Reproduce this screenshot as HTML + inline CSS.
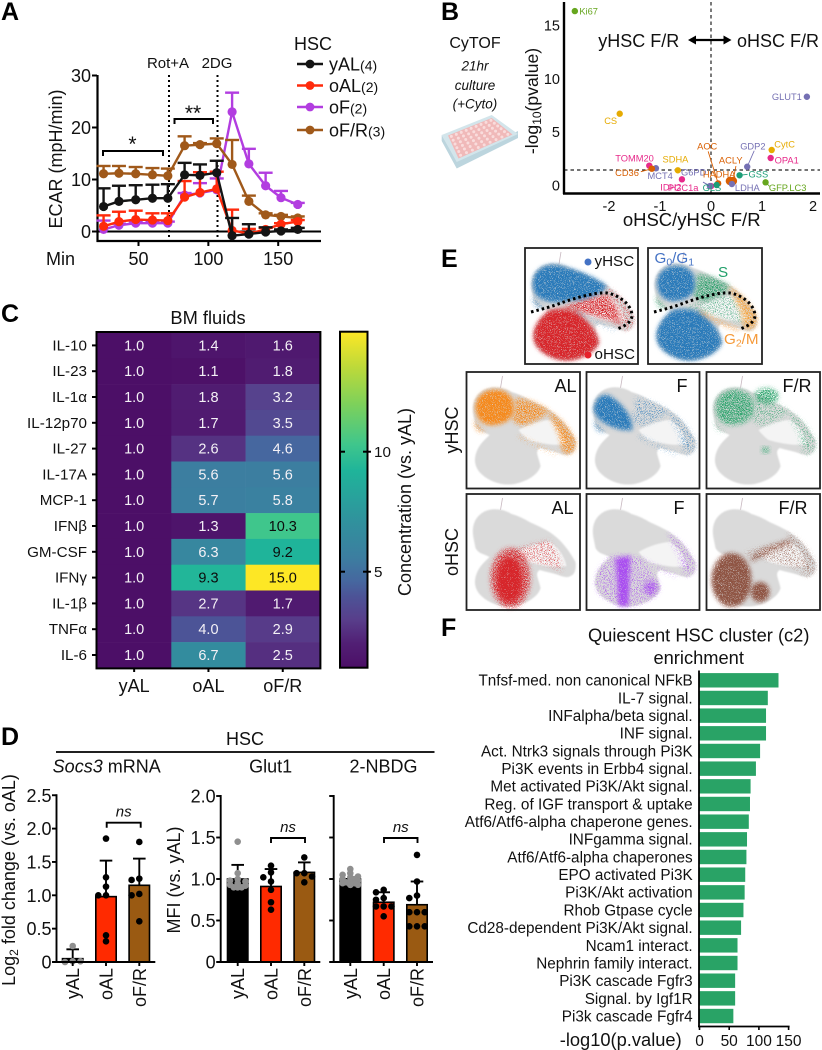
<!DOCTYPE html>
<html lang="en">
<head>
<meta charset="utf-8">
<title>HSC figure</title>
<style>
html,body{margin:0;padding:0;background:#fff;}
svg{display:block;font-family:"Liberation Sans",sans-serif;fill:#111;}
</style>
</head>
<body>
<svg id="figure" width="822" height="1050" viewBox="0 0 822 1050">
<defs>
<filter id="soft-edge" x="-10%" y="-10%" width="120%" height="120%" color-interpolation-filters="sRGB">
<feGaussianBlur in="SourceGraphic" stdDeviation="0.7"/>
</filter>
<filter id="speckle-dense" x="-30%" y="-30%" width="160%" height="160%" color-interpolation-filters="sRGB">
<feGaussianBlur in="SourceGraphic" stdDeviation="2" result="b"/>
<feTurbulence type="fractalNoise" baseFrequency="1.2" numOctaves="2" seed="4" result="n"/>
<feColorMatrix in="n" type="matrix" values="0 0 0 0 0 0 0 0 0 0 0 0 0 0 0 9 0 0 0 -2.6" result="m"/>
<feComposite in="b" in2="m" operator="in"/>
</filter>
<filter id="speckle-medium" x="-30%" y="-30%" width="160%" height="160%" color-interpolation-filters="sRGB">
<feGaussianBlur in="SourceGraphic" stdDeviation="2.5" result="b"/>
<feTurbulence type="fractalNoise" baseFrequency="1.25" numOctaves="2" seed="7" result="n"/>
<feColorMatrix in="n" type="matrix" values="0 0 0 0 0 0 0 0 0 0 0 0 0 0 0 12 0 0 0 -5.2" result="m"/>
<feComposite in="b" in2="m" operator="in"/>
</filter>
<filter id="speckle-sparse" x="-30%" y="-30%" width="160%" height="160%" color-interpolation-filters="sRGB">
<feGaussianBlur in="SourceGraphic" stdDeviation="2.5" result="b"/>
<feTurbulence type="fractalNoise" baseFrequency="1.3" numOctaves="2" seed="9" result="n"/>
<feColorMatrix in="n" type="matrix" values="0 0 0 0 0 0 0 0 0 0 0 0 0 0 0 14 0 0 0 -8 " result="m"/>
<feComposite in="b" in2="m" operator="in"/>
</filter>
</defs>
</svg>
<script>
/* ---------- Panel A data ---------- */
const ecarTimes=[25,36,48,60,71,83,94,106,117,129,141,152,164];
const ecarYAL=[4.8,5.8,6.1,6.4,6.4,10.9,10.8,11.3,-0.8,-0.5,-0.1,0.1,0.4];
const ecarYALUpper=[8.3,8.8,8.9,9.0,9.1,13.2,12.9,13.6,2.6,1.4,0.8,0.4,0.7];
const ecarOAL=[1.0,1.9,2.3,2.2,2.1,6.6,7.5,8.2,0.2,-0.4,0.4,1.4,1.9];
const ecarOALUpper=[3.1,3.8,4.0,3.5,3.5,9.7,11.4,11.5,4.2,0.5,0.7,1.6,2.2];
const ecarOF=[0.4,1.2,1.6,1.6,1.6,7.0,7.4,8.0,23.0,13.0,8.8,6.5,5.2];
const ecarOFUpper=[2.1,1.5,1.9,1.9,1.9,7.4,9.3,10.2,26.7,15.9,11.3,7.8,5.5];
const ecarOFR=[11.1,11.2,11.1,10.9,10.7,16.5,16.7,16.9,12.9,5.8,3.2,2.9,2.6];
const ecarOFRUpper=[12.6,12.6,12.4,12.2,12.1,18.3,17.0,17.9,17.6,6.9,3.5,3.2,2.9];
const ecarXTicks=[50,100,150];
const ecarYTicks=[0,10,20,30];

/* ---------- Panel B data ---------- */
const volcanoNames=["Ki67","CS","GLUT1","CytC","OPA1","GDP2","TOMM20","MCT4","CD36","SDHA","PGC1a","IDH2","G6PD","AOC","HADHA","ACLY","GSS","LDHA","GFP.LC3","GLS"];
const volcanoFoldChange=[-2.67,-1.79,1.88,1.19,1.17,0.71,-1.21,-1.08,-1.16,-0.65,-0.57,0.0,-0.02,0.14,0.37,0.43,0.56,0.41,1.07,0.11];
const volcanoPValue=[16.3,6.68,8.27,3.28,2.53,1.71,1.81,1.57,1.53,1.38,0.53,-0.1,-0.1,0.15,0.37,0.37,0.91,0.09,0.25,0.0];
const volcanoGroups=["lime","gold","violet","gold","pink","violet","pink","violet","orange","gold","pink","pink","violet","orange","orange","orange","teal","violet","lime","teal"];
const volcanoXTicks=[-2,-1,0,1,2];
const volcanoYTicks=[0,5,10,15];

/* ---------- Panel C data ---------- */
const heatRows=["IL-10","IL-23","IL-1α","IL-12p70","IL-27","IL-17A","MCP-1","IFNβ","GM-CSF","IFNγ","IL-1β","TNFα","IL-6"];
const heatCols=["yAL","oAL","oF/R"];
const heatYAL=[1,1,1,1,1,1,1,1,1,1,1,1,1];
const heatOAL=[1.4,1.1,1.8,1.7,2.6,5.6,5.7,1.3,6.3,9.3,2.7,4.0,6.7];
const heatOFR=[1.6,1.8,3.2,3.5,4.6,5.6,5.8,10.3,9.2,15.0,1.7,2.9,2.5];
const colorbarTicks=[5,10];

/* ---------- Panel D data ---------- */
const barGroups=["yAL","oAL","oF/R"];
const socs3Means=[0.05,0.98,1.15];
const socs3Upper=[0.19,1.52,1.55];
const socs3DotsYAL=[0.24,0.01,0.0,0.01];
const socs3DotsOAL=[1.85,1.27,1.13,1.0,1.0,0.4,0.31];
const socs3DotsOFR=[1.8,1.25,1.23,1.02,1.0,0.61];
const glut1Means=[1.0,0.91,1.08];
const glut1Upper=[1.17,1.12,1.2];
const glut1DotsYAL=[1.45,1.07,1.0,0.98,0.97,0.95,0.93,0.92,0.9,0.9,0.9,0.9];
const glut1DotsOAL=[1.16,1.08,1.02,0.97,0.87,0.72,0.63];
const glut1DotsOFR=[1.26,1.07,1.07,1.03,0.96];
const nbdgMeans=[1.0,0.72,0.69];
const nbdgUpper=[1.0,0.84,0.97];
const nbdgDotsYAL=[1.12,1.07,1.05,1.03,1.02,1.0,1.0,0.98,0.97,0.96,0.95,0.95,0.94,0.93,0.93,0.93];
const nbdgDotsOAL=[0.87,0.84,0.77,0.75,0.67,0.67,0.67,0.55];
const nbdgDotsOFR=[1.29,0.97,0.8,0.77,0.6,0.6,0.6,0.43,0.43,0.43];
const socs3Ticks=[0,0.5,1.0,1.5,2.0,2.5];
const mfiTicks=[0,0.5,1.0,1.5,2.0];

/* ---------- Panel F data ---------- */
const pathwayNames=["Tnfsf-med. non canonical NFkB","IL-7 signal.","INFalpha/beta signal.","INF signal.","Act. Ntrk3 signals through Pi3K","Pi3K events in Erbb4 signal.","Met activated Pi3K/Akt signal.","Reg. of IGF transport & uptake","Atf6/Atf6-alpha chaperone genes.","INFgamma signal.","Atf6/Atf6-alpha chaperones","EPO activated Pi3K","Pi3K/Akt activation","Rhob Gtpase cycle","Cd28-dependent Pi3K/Akt signal.","Ncam1 interact.","Nephrin family interact.","Pi3K cascade Fgfr3","Signal. by Igf1R","Pi3k cascade Fgfr4"];
const pathwayScores=[133,115,112,112,102,95,86,85,83,80,79,77,76,74,70,64,64,60,60,57];
const pathwayTicks=[0,50,100,150];

/* ---------- helpers ---------- */
const root=document.getElementById('figure');
const NS=root.namespaceURI;
function add(parent,tag,attrs,content){
  const n=document.createElementNS(NS,tag);
  for(const k in attrs){n.setAttribute(k,attrs[k]);}
  if(content!==undefined&&content!==null){n.textContent=content;}
  parent.appendChild(n);
  return n;
}
function group(parent,name){
  const g=add(parent,'g',{});
  
  
  return g;
}
function text(parent,x,y,str,size,anchor,name,extra){
  const a=Object.assign({x:x,y:y,'font-size':size,'text-anchor':anchor||'start'},extra||{});
  const t=add(parent,'text',a,str);
  
  
  return t;
}
function seg(parent,x1,y1,x2,y2,w,color,name,extra){
  const a=Object.assign({x1:x1,y1:y1,x2:x2,y2:y2,stroke:color||'#000','stroke-width':w},extra||{});
  const l=add(parent,'line',a);
  
  
  return l;
}
function slug(s){return String(s).toLowerCase().replace(/[^a-z0-9α-ω]+/g,'-').replace(/^-|-$/g,'');}

/* panel letters */
const letterGroup=group(root,'panel-letters');
[["A",1,20],["B",441,20],["C",1,322],["D",1,745],["E",441,267],["F",441,636]].forEach(function(p){
  const t=text(letterGroup,p[1],p[2],p[0],25,'start','panel-letter-'+p[0].toLowerCase(),{'font-weight':'bold',fill:'#000'});
});

/* ---------- Panel A ---------- */
function drawA(){
  const g=group(root,'ecar-line-chart');
  const xA=function(v){return 138.5+(v-50)*1.397;};
  const yA=function(v){return 231.5-v*5.2;};
  seg(g,97.5,75,97.5,242,2.2,'#000','y-axis');
  seg(g,96.5,241,321,241,2.2,'#000','x-axis');
  seg(g,97,yA(0),321,yA(0),2,'#000','zero-line');
  ecarYTicks.forEach(function(v){
    seg(g,92,yA(v),97,yA(v),2,'#000','y-tick');
    text(g,91,yA(v)+6.5,v,18,'end','y-tick-label');
  });
  ecarXTicks.forEach(function(v){
    seg(g,xA(v),241,xA(v),246,2,'#000','x-tick');
    text(g,xA(v),265,v,18,'middle','x-tick-label');
  });
  text(g,46,265,'Min',18,'start','x-axis-title');
  text(g,0,0,'ECAR (mpH/min)',18,'middle','y-axis-title',{transform:'translate(62 159) rotate(-90)'});
  seg(g,169,75,169,241,2,'#000','rot-a-marker',{'stroke-dasharray':'2 3'});
  seg(g,217.5,75,217.5,241,2,'#000','2dg-marker',{'stroke-dasharray':'2 3'});
  text(g,168,68,'Rot+A',15,'middle','rot-a-label');
  text(g,217,68,'2DG',15,'middle','2dg-label');
  const series=[
    {n:'of',c:'#b23de0',m:ecarOF,u:ecarOFUpper},
    {n:'of-r',c:'#a0591a',m:ecarOFR,u:ecarOFRUpper},
    {n:'oal',c:'#ff2a0c',m:ecarOAL,u:ecarOALUpper},
    {n:'yal',c:'#141414',m:ecarYAL,u:ecarYALUpper}
  ];
  series.forEach(function(s){
    const sg=group(g,'series-'+s.n);
    s.u.forEach(function(u,i){
      seg(sg,xA(ecarTimes[i]),yA(s.m[i]),xA(ecarTimes[i]),yA(u),2.4,s.c,'error-bar');
      seg(sg,xA(ecarTimes[i])-7,yA(u),xA(ecarTimes[i])+7,yA(u),2.4,s.c,'error-cap');
    });
    const pts=s.m.map(function(v,i){return xA(ecarTimes[i])+','+yA(v);}).join(' ');
    const line=add(sg,'polyline',{points:pts,fill:'none',stroke:s.c,'stroke-width':2.4});
    
    
    s.m.forEach(function(v,i){
      const c=add(sg,'circle',{cx:xA(ecarTimes[i]),cy:yA(v),r:4.6,fill:s.c});
      
      
    });
  });
  /* significance */
  const b1=add(g,'path',{d:'M103 156V151H163V156',fill:'none',stroke:'#000','stroke-width':2});
  
  
  text(g,132.5,151,'*',21,'middle','significance-star');
  const b2=add(g,'path',{d:'M174.5 124V119H213V124',fill:'none',stroke:'#000','stroke-width':2});
  
  
  text(g,193,120,'**',21,'middle','significance-stars');
  /* legend */
  const lg=group(g,'legend');
  text(lg,294,50,'HSC',18,'start','legend-title');
  [['yAL','(4)','#141414',64],['oAL','(2)','#ff2a0c',85.5],['oF','(2)','#b23de0',107],['oF/R','(3)','#a0591a',130]].forEach(function(r){
    const e=group(lg,'legend-entry');
    seg(e,297,r[3],323,r[3],2.4,r[2],'legend-line');
    const c=add(e,'circle',{cx:310,cy:r[3],r:4.4,fill:r[2]});
    
    
    const t=text(e,329,r[3]+6.5,r[0],18,'start','legend-label');
    add(t,'tspan',{'font-size':14},r[1]);
  });
}
drawA();

/* ---------- Panel B ---------- */
function drawB(){
  const g=group(root,'volcano-plot');
  const xB=function(v){return 711+v*51;};
  const yB=function(v){return 185-v*10.67;};
  const palette={lime:'#66a61e',gold:'#e6ab02',violet:'#7570b3',pink:'#e7298a',orange:'#d95f02',teal:'#1b9e77'};
  /* label offsets from each point: [dx, dy] */
  const labelOffset={"Ki67":[4.5,0],"CS":[-15.5,7],"GLUT1":[-35,0],"CytC":[2.6,-6],"OPA1":[4,2],"GDP2":[-7,-20.7],"TOMM20":[-34,-7.7],"MCT4":[-8.4,7.4],"CD36":[-36.7,4],"SDHA":[-15.3,-11.3],"PGC1a":[-14,8.4],"IDH2":[-50.7,1.2],"G6PD":[-29,-14],"AOC":[-21,-37],"HADHA":[-27,-7],"ACLY":[-14,-21],"GSS":[9,-1.3],"LDHA":[3,3.7],"GFP.LC3":[3.3,5.4],"GLS":[-14,2.7]};
  /* leader-line ends relative to each point */
  const leaderEnd={"GDP2":[7,-16],"AOC":[-10,-32],"ACLY":[3,-15],"CD36":[-11,3],"G6PD":[-7,-4],"GSS":[8,-1],"GFP.LC3":[4,4]};
  seg(g,711,2,711,193,1.2,'#222','vertical-reference-line',{'stroke-dasharray':'3.5 3'});
  seg(g,564,170,820,170,1.2,'#222','significance-threshold-line',{'stroke-dasharray':'3.5 3'});
  seg(g,564,2,564,194,2.4,'#000','y-axis');
  seg(g,563,193.5,820,193.5,2.4,'#000','x-axis');
  volcanoXTicks.forEach(function(v){
    text(g,xB(v),211,v,14.5,'middle','x-tick-label');
  });
  volcanoYTicks.forEach(function(v){
    text(g,560,yB(v)+5.5,v,14.5,'end','y-tick-label');
  });
  const yt=text(g,0,0,'-log',17.6,'middle','y-axis-title',{transform:'translate(538 101) rotate(-90)'});
  add(yt,'tspan',{'font-size':12,dy:3},'10');
  add(yt,'tspan',{dy:-3},'(pvalue)');
  text(g,691.7,226,'oHSC/yHSC F/R',18.5,'middle','x-axis-title');
  text(g,598.3,47,'yHSC F/R',18,'start','young-direction-label');
  text(g,737,47,'oHSC F/R',18,'start','old-direction-label');
  const arrow=add(g,'path',{d:'M688 40l8 -4.5v3.4h27.5v-3.4l8 4.5l-8 4.5v-3.4h-27.5v3.4Z',fill:'#000'});
  
  
  volcanoNames.forEach(function(name,i){
    const px=xB(volcanoFoldChange[i]), py=yB(volcanoPValue[i]);
    const col=palette[volcanoGroups[i]];
    const o=labelOffset[name];
    const pt=group(g,'point-group-'+slug(name));
    if(leaderEnd[name]){
      seg(pt,px,py,px+leaderEnd[name][0],py+leaderEnd[name][1],0.9,col,'label-connector');
    }
    const big=(name==='HADHA'||name==='ACLY');
    const c=add(pt,'circle',{cx:px,cy:py,r:big?4.2:3.2,fill:col});
    
    
    text(pt,px+o[0],py+o[1]+3.3,name,9.3,'start','label-'+slug(name),{fill:col});
  });
}
drawB();

/* CyTOF note and plate icon */
function drawCytof(){
  const g=group(root,'cytof-note');
  text(g,475,48,'CyTOF',16,'middle','cytof-title');
  text(g,475,70.5,'21hr',13.5,'middle','culture-duration',{'font-style':'italic'});
  text(g,475,90,'culture',13.5,'middle','culture-label',{'font-style':'italic'});
  text(g,475,108.5,'(+Cyto)',13.5,'middle','cytokine-label',{'font-style':'italic'});
  const plate=group(g,'plate-icon');
  const side=add(plate,'polygon',{points:'441.7,135 456.7,161 518,131 518,138 456.7,168.5 441.7,141',fill:'#bcd5de'});
  
  
  const top=add(plate,'polygon',{points:'441.7,135 491.7,115 518,134 456.7,162',fill:'#d3e5eb'});
  
  
  const inner=add(plate,'polygon',{points:'448,135.5 491.7,118 512.5,134.5 458.5,158.5',fill:'#f0b9b9'});
  
  
  for(let a=0;a<9;a++){for(let b=0;b<6;b++){
    const u=(a+0.5)/9, v=(b+0.5)/6;
    const x=(1-u)*(1-v)*448+u*(1-v)*491.7+u*v*512.5+(1-u)*v*458.5;
    const y=(1-u)*(1-v)*135.5+u*(1-v)*118+u*v*134.5+(1-u)*v*158.5;
    const w=add(plate,'circle',{cx:x,cy:y,r:1.5,fill:'#f9dcdc'});
    
    
  }}
}
drawCytof();

/* ---------- Panel C ---------- */
function drawC(){
  const g=group(root,'cytokine-heatmap');
  const cmapValues=[1,2,3,4,4.6,5.6,7,9.2,10.3,12,13.5,15];
  const cmapColors=['#4c0f67','#511f74','#583e8b','#4c5497','#46679f','#3c7ea0','#31909d','#1fb49a','#3fc68c','#7ed15a','#bcd93a','#fde725'];
  function hex(c){return [parseInt(c.substr(1,2),16),parseInt(c.substr(3,2),16),parseInt(c.substr(5,2),16)];}
  function colorOf(v){
    let i=0;
    while(i<cmapValues.length-2&&v>cmapValues[i+1]){i++;}
    const t=Math.max(0,Math.min(1,(v-cmapValues[i])/(cmapValues[i+1]-cmapValues[i])));
    const a=hex(cmapColors[i]),b=hex(cmapColors[i+1]);
    return 'rgb('+a.map(function(q,k){return Math.round(q+(b[k]-q)*t);}).join(',')+')';
  }
  const left=97, top=332.5, cw=74.3, rh=25.8;
  text(g,208,324,'BM fluids',18.3,'middle','heatmap-title');
  const columns=[heatYAL,heatOAL,heatOFR];
  heatRows.forEach(function(row,r){
    const yc=top+rh*(r+0.5);
    seg(g,92,yc,97,yc,2,'#000','row-tick');
    text(g,87,yc+5,row,15.2,'end','row-label-'+slug(row));
    columns.forEach(function(col,c){
      const v=col[r];
      const cell=add(g,'rect',{x:left+cw*c,y:top+rh*r,width:cw+0.3,height:rh+0.3,fill:colorOf(v)});
      
      
      text(g,left+cw*(c+0.5),yc+5,v.toFixed(1),14.5,'middle','cell-value',{fill:(v>=9?'#0c0c0c':'#f4f1f6')});
    });
  });
  const frame=add(g,'rect',{x:left-0.5,y:top-0.5,width:cw*3+1,height:rh*13+1,fill:'none',stroke:'#000','stroke-width':2});
  
  
  heatCols.forEach(function(c,i){
    const xc=left+cw*(i+0.5);
    seg(g,xc,668,xc,672,2,'#000','column-tick');
    text(g,xc,692,c,18,'middle','column-label-'+slug(c));
  });
  /* colorbar */
  const cb=group(g,'colorbar');
  const cbY=function(v){return 667.7-(v-1)*24;};
  const defs=root.querySelector('defs');
  const lg=add(defs,'linearGradient',{id:'viridis-ramp',x1:0,y1:1,x2:0,y2:0});
  cmapValues.forEach(function(v,i){
    add(lg,'stop',{offset:(v-1)/14,'stop-color':cmapColors[i]});
  });
  const bar=add(cb,'rect',{x:340,y:cbY(15),width:27.5,height:cbY(1)-cbY(15),fill:'url(#viridis-ramp)',stroke:'#000','stroke-width':2});
  
  
  colorbarTicks.forEach(function(v){
    seg(cb,340,cbY(v),345,cbY(v),2,'#000','colorbar-tick');
    seg(cb,363,cbY(v),371,cbY(v),2,'#000','colorbar-tick');
    text(cb,374,cbY(v)+5.5,v,15.2,'start','colorbar-tick-label');
  });
  text(cb,0,0,'Concentration (vs. yAL)',18,'middle','colorbar-title',{transform:'translate(411 502) rotate(-90)'});
}
drawC();

/* ---------- Panel D ---------- */
function drawBars(parent,name,axisX,yZero,unit,ticks,showLabels,centers,means,uppers,dotSets,bracket){
  const g=group(parent,name);
  const yD=function(v){return yZero-v*unit;};
  const fills=['#000000','#ff2a00','#9a5a12'];
  const dotFill=['#8f8f8f','#000000','#000000'];
  means.forEach(function(m,i){
    const b=add(g,'rect',{x:centers[i]-10.2,y:yD(m),width:20.4,height:yD(0)-yD(m),fill:fills[i],stroke:'#000','stroke-width':1.6});
    
    
  });
  means.forEach(function(m,i){
    seg(g,centers[i],yD(m),centers[i],yD(uppers[i]),1.9,'#000','error-bar');
    seg(g,centers[i]-6.3,yD(uppers[i]),centers[i]+6.3,yD(uppers[i]),1.9,'#000','error-cap');
  });
  dotSets.forEach(function(set,i){
    const placed=[];
    const minDist=set.length>10?14:36;
    set.forEach(function(v){
      const py=yD(v);
      const cand=[0,-7.7,7.7,-4,4,-2,2];
      let off=0;
      for(let k=0;k<cand.length;k++){
        const clash=placed.some(function(p){const dx=p[0]-cand[k],dy=p[1]-py;return dx*dx+dy*dy<minDist;});
        if(!clash){off=cand[k];break;}
      }
      placed.push([off,py]);
      const c=add(g,'circle',{cx:centers[i]+off,cy:py,r:3.3,fill:dotFill[i]});
      
      
    });
  });
  seg(g,axisX,yD(ticks[ticks.length-1])-1,axisX,yZero+1,1.9,'#000','y-axis');
  seg(g,axisX-4,yZero,centers[2]+16,yZero,1.9,'#000','x-axis');
  ticks.forEach(function(v){
    seg(g,axisX-4.5,yD(v),axisX,yD(v),1.9,'#000','y-tick');
    if(showLabels){text(g,axisX-5,yD(v)+6.5,v===0?'0':v.toFixed(1),18,'end','y-tick-label');}
  });
  centers.forEach(function(cx,i){
    seg(g,cx,yZero,cx,yZero+4,1.9,'#000','x-tick');
    text(g,0,0,barGroups[i],18,'end','x-tick-label-'+slug(barGroups[i]),{transform:'translate('+(cx+6.5)+' 968) rotate(-90)'});
  });
  const br=add(g,'path',{d:'M'+bracket[0]+' '+(bracket[2]+5)+'V'+bracket[2]+'H'+bracket[1]+'V'+(bracket[2]+5),fill:'none',stroke:'#000','stroke-width':1.9});
  
  
  text(g,(bracket[0]+bracket[1])/2,bracket[2]-6,'ns',15,'middle','ns-label',{'font-style':'italic'});
}
function drawD(){
  const g=group(root,'hsc-bar-charts');
  text(g,245,745,'HSC',18,'middle','hsc-header');
  seg(g,56,752,434.5,752,1.8,'#000','hsc-header-rule');
  const st=text(g,106.7,772.7,'Socs3',18,'middle','socs3-subtitle');
  st.textContent='';
  add(st,'tspan',{'font-style':'italic'},'Socs3');
  add(st,'tspan',{},' mRNA');
  text(g,270.7,772.7,'Glut1',18,'middle','glut1-subtitle');
  text(g,383.5,772.7,'2-NBDG',18,'middle','2-nbdg-subtitle');
  const lt=text(g,0,0,'Log',18,'middle','socs3-y-axis-title',{transform:'translate(15 880) rotate(-90)'});
  add(lt,'tspan',{'font-size':12,dy:3},'2');
  add(lt,'tspan',{dy:-3},' fold change (vs. oAL)');
  text(g,0,0,'MFI (vs. yAL)',18,'middle','mfi-y-axis-title',{transform:'translate(180 880) rotate(-90)'});
  drawBars(g,'socs3-chart',56.5,962,66.7,socs3Ticks,true,[72.7,106,139.3],socs3Means,socs3Upper,[socs3DotsYAL,socs3DotsOAL,socs3DotsOFR],[106.7,140.7,822.7]);
  drawBars(g,'glut1-chart',220.7,962,83,mfiTicks,true,[237.7,271,304.3],glut1Means,glut1Upper,[glut1DotsYAL,glut1DotsOAL,glut1DotsOFR],[271,305,838]);
  drawBars(g,'2-nbdg-chart',333.7,962,83,mfiTicks,false,[350.3,383.7,417],nbdgMeans,nbdgUpper,[nbdgDotsYAL,nbdgDotsOAL,nbdgDotsOFR],[384,417.5,838]);
}
drawD();

/* ---------- Panel E ---------- */
const umapShapes={
  bg:'M7 44C5 34 7 24 17 18C24 14 36 14 45 20C52 22 58 25 63 28C72 32 78 35 83 38C92 44 100 52 109 68C110 75 108 81 104 82C101 84 97 83 92 81C86 79 80 78 73 76C68 80 72 84 74 94C72 102 62 109 48 112C36 114 24 110 16 103C8 96 7 88 10 80C13 72 18 68 23 63C18 60 12 60 9 54Z',
  hole:'M52 58C62 52 75 48 84 48C92 54 98 62 100 72C90 74 75 72 62 68C58 65 55 62 52 58Z',
  upper:'M8 32C10 20 22 15 33 17C46 20 70 28 82 38C78 46 60 54 46 52C34 56 20 55 12 48C8 44 7 38 8 32Z',
  u1:'M9 33C11 21 22 16 33 18C44 20 49 29 47 40C45 49 34 54 22 53C13 51 8 42 9 33Z',
  u2:'M48 26C58 26 70 30 82 38C80 44 70 50 58 53C52 54 46 50 46 46C48 40 50 32 48 26Z',
  arm:'M80 38C92 44 102 54 109 68C110 76 107 82 100 82C92 80 96 70 92 62C88 54 84 46 80 38Z',
  strip:'M53 63C66 70 80 77 92 81L90 83C78 79 64 72 51 65Z',
  lower:'M23 63C30 60 44 60 52 64C60 70 72 82 74 94C72 102 62 109 48 112C36 114 24 110 16 103C8 96 7 88 10 80C13 72 18 68 23 63Z',
  ridge:'M36 60C50 54 66 50 82 46L92 60L96 78L84 72L62 66L50 62Z',
  left:'M7 38C8 26 16 20 24 24C38 34 46 44 46 58C30 60 10 50 7 38Z',
  cap:'M8 46C10 54 15 58 20 60L14 60C9 58 7 52 8 46Z',
  top2:'M48 24a12 8 0 1 0 24 0a12 8 0 1 0 -24 0Z',
  redcore:'M30 86a13 23 0 1 0 26 0a13 23 0 1 0 -26 0Z',
  redhalo:'M24 84a20 30 0 1 0 40 0a20 30 0 1 0 -40 0Z',
  band:'M29 64L44 62L42 112L32 112Z',
  spot:'M57 94a7 7 0 1 0 14 0a7 7 0 1 0 -14 0Z',
  brownbig:'M5 86a20 27 0 1 0 40 0a20 27 0 1 0 -40 0Z',
  brownspot:'M44 98a9.500 10 0 1 0 19 0a9.500 10 0 1 0 -19 0Z',
  brownband:'M43 64C55 54 70 50 84 45L86 49C72 54 58 60 46 68Z',
  midspot:'M55 78a4 3 0 1 0 8 0a4 3 0 1 0 -8 0Z'
};
const umapPanels=[
  {name:'umap-age',x:525,y:248,w:113,h:116,curve:true,layers:[['upper','#2b7bba','dense'],['cap','#2b7bba','medium'],['lower','#d7262b','dense'],['ridge','#d7262b','medium'],['arm','#d7262b','sparse'],['strip','#3b7fb8','sparse']]},
  {name:'umap-cell-cycle',x:648,y:248,w:114,h:116,curve:true,layers:[['u1','#2b7bba','dense'],['cap','#3aa876','medium'],['u2','#33a270','medium'],['lower','#2b7bba','dense'],['ridge','#33a270','sparse'],['arm','#f5a33c','medium'],['strip','#f59a3a','medium']]},
  {name:'umap-yhsc-al',x:466.5,y:372,w:113.500,h:116.500,label:'AL',lx:110,la:'end',layers:[['u1','#f58a1e','dense'],['u2','#f58a1e','medium'],['cap','#f58a1e','medium'],['arm','#f58a1e','medium'],['strip','#f58a1e','sparse']]},
  {name:'umap-yhsc-f',x:586.5,y:372,w:113,h:116.500,label:'F',lx:90,la:'start',layers:[['left','#2b7bba','dense'],['u2','#2b7bba','sparse'],['arm','#2b7bba','sparse'],['strip','#2b7bba','sparse'],['cap','#2b7bba','medium']]},
  {name:'umap-yhsc-f-r',x:706.5,y:372,w:113.500,h:116.500,label:'F/R',lx:76,la:'start',layers:[['u1','#2aa36b','medium'],['top2','#2aa36b','medium'],['u2','#2aa36b','sparse'],['cap','#2aa36b','sparse'],['arm','#2aa36b','sparse'],['midspot','#2aa36b','medium']]},
  {name:'umap-ohsc-al',x:466.5,y:494,w:113.500,h:116,label:'AL',lx:107,la:'end',layers:[['redcore','#d7262b','dense'],['redhalo','#d7262b','medium'],['ridge','#d7262b','sparse']]},
  {name:'umap-ohsc-f',x:586.5,y:494,w:113,h:116,label:'F',lx:87,la:'start',layers:[['band','#a94df0','dense'],['spot','#a94df0','medium'],['lower','#a94df0','sparse'],['arm','#a94df0','sparse'],['strip','#a94df0','sparse']]},
  {name:'umap-ohsc-f-r',x:706.5,y:494,w:113.500,h:116,label:'F/R',lx:72,la:'start',layers:[['brownbig','#8f5544','dense'],['brownspot','#8f5544','dense'],['brownband','#8f5544','medium'],['ridge','#8f5544','sparse'],['arm','#8f5544','sparse']]}
];
function drawE(){
  const g=group(root,'umap-panels');
  umapPanels.forEach(function(p){
    const pg=group(g,p.name);
    pg.setAttribute('transform','translate('+p.x+' '+p.y+')');
    const bgRect=add(pg,'rect',{x:0,y:0,width:p.w,height:p.h,fill:'#fff'});
    
    
    seg(pg,36,4,34,16,0.8,'#c8b8c0','umap-tail');
    const bg=add(pg,'path',{d:umapShapes.bg,fill:'#dadada',filter:'url(#soft-edge)'});
    
    
    const hole=add(pg,'path',{d:umapShapes.hole,fill:'#fff','fill-opacity':0.7,filter:'url(#soft-edge)'});
    
    
    p.layers.forEach(function(l){
      const s=add(pg,'path',{d:umapShapes[l[0]],fill:l[1],filter:'url(#speckle-'+l[2]+')'});
      
      
    });
    if(p.curve){
      const d=add(pg,'path',{d:'M6 64C18 61 28 58 36 55C50 50 70 44 82 45C94 47 106 56 107 67C107 74 100 78 92 81',fill:'none',stroke:'#000','stroke-width':3,'stroke-dasharray':'2.5 3'});
      
      
    }
    if(p.label){
      text(pg,p.lx,20,p.label,18,p.la,'condition-label');
    }
    const fr=add(pg,'rect',{x:0,y:0,width:p.w,height:p.h,fill:'none',stroke:'#222','stroke-width':1.8});
    
    
    if(p.name==='umap-age'){
      const d1=add(pg,'circle',{cx:63,cy:14,r:3.5,fill:'#4472c4'});
      
      
      text(pg,69.5,18,'yHSC',15.2,'start','yhsc-key');
      const d2=add(pg,'circle',{cx:63,cy:107,r:3.5,fill:'#e8202a'});
      
      
      text(pg,69.5,111,'oHSC',15.2,'start','ohsc-key');
    }
    if(p.name==='umap-cell-cycle'){
      const t1=text(pg,6.5,15,'G',15.2,'start','g0-g1-label',{fill:'#4472c4'});
      add(t1,'tspan',{'font-size':10.5,dy:2.5},'0');
      add(t1,'tspan',{dy:-2.5},'/G');
      add(t1,'tspan',{'font-size':10.5,dy:2.5},'1');
      text(pg,70,29,'S',15.2,'start','s-phase-label',{fill:'#22a06b'});
      const t2=text(pg,76,96,'G',15.2,'start','g2-m-label',{fill:'#f59a3a'});
      add(t2,'tspan',{'font-size':10.5,dy:2.5},'2');
      add(t2,'tspan',{dy:-2.5},'/M');
    }
  });
  text(g,0,0,'yHSC',18,'middle','yhsc-row-label',{transform:'translate(458 430) rotate(-90)'});
  text(g,0,0,'oHSC',18,'middle','ohsc-row-label',{transform:'translate(458 552) rotate(-90)'});
}
drawE();

/* ---------- Panel F ---------- */
function drawF(){
  const g=group(root,'enrichment-bar-chart');
  const xF=function(v){return 699.5+v*0.594;};
  const yF=function(i){return 680.3+i*17.67;};
  text(g,698.7,641.7,'Quiescent HSC cluster (c2)',18.3,'middle','chart-title');
  text(g,698.7,664,'enrichment',18.3,'middle','chart-title-second-line');
  pathwayNames.forEach(function(n,i){
    text(g,692.7,yF(i)+5.4,n,15.3,'end','pathway-label');
    const b=add(g,'rect',{x:xF(0),y:yF(i)-7.2,width:xF(pathwayScores[i])-xF(0),height:14.4,fill:'#29a366'});
    
    
  });
  seg(g,699,670.5,699,1027,1.8,'#000','y-axis');
  seg(g,698,1026.5,xF(150)+1,1026.5,1.8,'#000','x-axis');
  pathwayTicks.forEach(function(v){
    seg(g,xF(v),1026,xF(v),1030,1.6,'#000','x-tick');
    text(g,xF(v),1046,v,15.5,'middle','x-tick-label');
  });
  text(g,681.7,1046,'-log10(p.value)',18.3,'end','x-axis-title');
}
drawF();
</script>
</body>
</html>
